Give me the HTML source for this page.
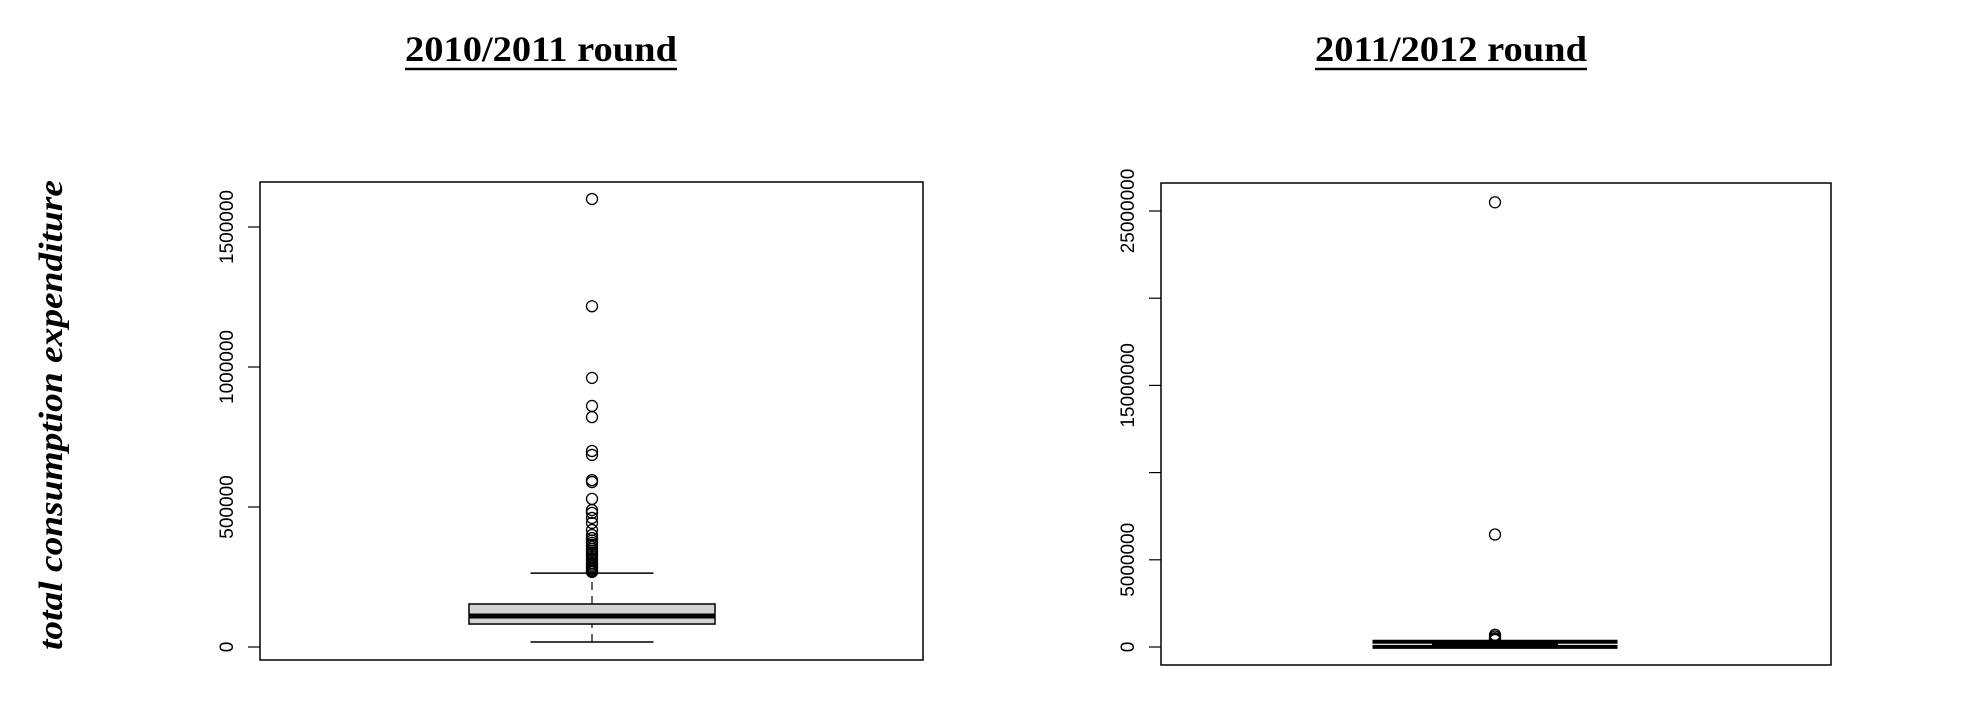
<!DOCTYPE html>
<html><head><meta charset="utf-8"><style>
html,body{margin:0;padding:0;background:#fff;}
svg{display:block;}
text{font-family:"Liberation Sans",sans-serif;}
.t{font-family:"Liberation Serif",serif;font-weight:bold;}
</style></head><body>
<svg id="chart" width="1966" height="728" viewBox="0 0 1966 728" xmlns="http://www.w3.org/2000/svg">
<g>
<text class="t" x="0" y="0" transform="translate(62,415) rotate(-90)" text-anchor="middle" font-size="34" font-style="italic" textLength="470" lengthAdjust="spacingAndGlyphs">total consumption expenditure</text>
</g>
<g>
<text class="t" x="541" y="61" text-anchor="middle" font-size="36" textLength="272" lengthAdjust="spacingAndGlyphs">2010/2011 round</text>
<line x1="405" y1="69" x2="677" y2="69" stroke="#000" stroke-width="2.5"/>
</g>
<g>
<text class="t" x="1451" y="61" text-anchor="middle" font-size="36" textLength="272" lengthAdjust="spacingAndGlyphs">2011/2012 round</text>
<line x1="1315" y1="69" x2="1587" y2="69" stroke="#000" stroke-width="2.5"/>
</g>
<g id="p1"></g>
<g id="p2"></g>
</svg>
<script>
// Panel 1 data (2010/2011)
const stats1 = [18000, 82000, 110700, 153600, 264000]; // lowWhisker, Q1, median, Q3, highWhisker
const outliers1 = [1600000,1217000,961000,861000,821000,700000,686000,596000,589000,529000,489000,479000,461000,443000,418000,400000,389000,380000,372000,365000,358000,350000,343000,336000,330000,322000,315000,308000,300000,294000,288000,282000,277000,272000,268000];
const ticks1 = [0,500000,1000000,1500000];
const tickLabels1 = ["0","500000","1000000","1500000"];
// Panel 2 data (2011/2012)
const stats2 = [10000, 60000, 100000, 160000, 300000];
const outliers2 = [25500000,6450000,700000,600000,500000,450000,400000];
const ticks2 = [0,5000000,10000000,15000000,20000000,25000000];
const tickLabels2 = ["0","5000000","","15000000","","25000000"];

const NS="http://www.w3.org/2000/svg";
function mk(parent,tag,attrs){const e=document.createElementNS(NS,tag);for(const k in attrs)e.setAttribute(k,attrs[k]);parent.appendChild(e);return e;}

function panel(g,cfg,stats,outliers,ticks,labels){
  const y=v=>cfg.y0-(v/cfg.vref)*(cfg.y0-cfg.yref);
  const frame=mk(g,'rect',{x:cfg.l,y:cfg.t,width:cfg.r-cfg.l,height:cfg.b-cfg.t,fill:'none',stroke:'#000','stroke-width':1.5});
  
  
  ticks.forEach((v,i)=>{
    const tl=mk(g,'line',{x1:cfg.l-12,x2:cfg.l,y1:y(v),y2:y(v),stroke:'#000','stroke-width':1.2});
    
    
    if(labels[i]){
      const tx=mk(g,'text',{x:0,y:0,transform:`translate(${cfg.l-27},${y(v)}) rotate(-90)`,'text-anchor':'middle','font-size':19});
      tx.textContent=labels[i];
      
      
    }
  });
  const cx=cfg.cx,hw=cfg.bw/2,cw=cfg.cw/2;
  const wl=mk(g,'line',{x1:cx,x2:cx,y1:y(stats[0]),y2:y(stats[1]),stroke:'#000','stroke-width':1.2,'stroke-dasharray':'8,6'});
  
  
  const wu=mk(g,'line',{x1:cx,x2:cx,y1:y(stats[3]),y2:y(stats[4]),stroke:'#000','stroke-width':1.2,'stroke-dasharray':'8,6'});
  
  
  [0,4].forEach(k=>{
    const c=mk(g,'line',{x1:cx-cw,x2:cx+cw,y1:y(stats[k]),y2:y(stats[k]),stroke:'#000','stroke-width':cfg.capw});
    
    
  });
  const h=Math.max(y(stats[1])-y(stats[3]),1);
  const bx=mk(g,'rect',{x:cx-hw,y:y(stats[3]),width:2*hw,height:h,fill:'#d3d3d3',stroke:'#000','stroke-width':cfg.boxw});
  
  
  const md=mk(g,'line',{x1:cx-hw,x2:cx+hw,y1:y(stats[2]),y2:y(stats[2]),stroke:'#000','stroke-width':5});
  
  
  outliers.forEach(v=>{
    const o=mk(g,'circle',{cx:cx,cy:y(v),r:5.5,fill:'none',stroke:'#000','stroke-width':1.3});
    
    
  });
}
panel(document.getElementById('p1'),{l:260,r:923,t:182,b:660,y0:647,yref:227,vref:1500000,cx:592,bw:246,cw:123,capw:1.5,boxw:1.5},stats1,outliers1,ticks1,tickLabels1);
panel(document.getElementById('p2'),{l:1161,r:1831,t:183,b:665,y0:647,yref:211,vref:25000000,cx:1495,bw:123,cw:245,capw:4,boxw:3},stats2,outliers2,ticks2,tickLabels2);
</script>
</body></html>
